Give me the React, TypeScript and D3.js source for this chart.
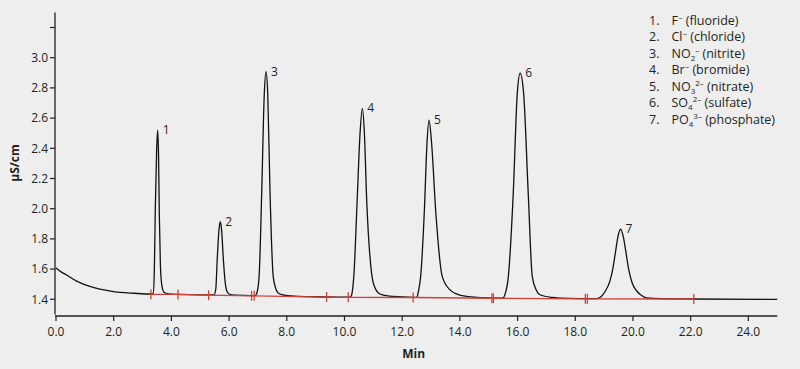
import React, { useEffect } from "react";
import * as d3 from "d3";

// chromatogram trace (minutes, µS/cm)
const traceTime = [
  0, 0.15, 0.37, 0.6, 0.83, 1.15, 1.52, 1.85, 2.22, 2.7, 3.26,
  3.37, 3.41, 3.44, 3.49, 3.525, 3.555, 3.58, 3.62, 3.67, 3.74, 3.9, 4.2, 5.0,
  5.48, 5.54, 5.59, 5.65, 5.695, 5.74, 5.8, 5.86, 5.92, 6.0, 6.2, 6.8,
  6.9, 6.96, 7.04, 7.13, 7.22, 7.28, 7.34, 7.42, 7.53, 7.62, 7.71, 7.9, 8.3, 9.0, 10.1,
  10.2, 10.25, 10.33, 10.44, 10.54, 10.62, 10.69, 10.77, 10.94, 11.05, 11.23, 11.5, 12.0, 12.45,
  12.51, 12.56, 12.64, 12.77, 12.86, 12.93, 13.02, 13.16, 13.39, 13.66, 13.9, 14.12, 14.6, 15.1, 15.45,
  15.5, 15.56, 15.68, 15.85, 15.99, 16.09, 16.21, 16.37, 16.51, 16.65, 16.78, 17.18, 17.8, 18.6,
  18.74, 18.9, 19.03, 19.2, 19.3, 19.4, 19.47, 19.57, 19.67, 19.75, 19.85, 19.97, 20.13, 20.3, 20.47, 21.0, 22.0, 25.0,
];
const traceSignal = [
  1.607, 1.585, 1.561, 1.533, 1.51, 1.487, 1.468, 1.456, 1.446, 1.44, 1.435,
  1.44, 1.6, 1.975, 2.4, 2.521, 2.35, 1.975, 1.62, 1.49, 1.447, 1.436, 1.432, 1.429,
  1.429, 1.47, 1.67, 1.86, 1.914, 1.86, 1.67, 1.52, 1.455, 1.435, 1.427, 1.424,
  1.424, 1.44, 1.55, 2.1, 2.76, 2.907, 2.76, 2.1, 1.55, 1.47, 1.44, 1.428, 1.421, 1.417, 1.414,
  1.414, 1.43, 1.572, 2.058, 2.5, 2.665, 2.5, 2.058, 1.572, 1.48, 1.435, 1.422, 1.416, 1.413,
  1.414, 1.45, 1.55, 1.991, 2.433, 2.587, 2.433, 1.991, 1.55, 1.462, 1.434, 1.422, 1.413, 1.409, 1.408,
  1.409, 1.43, 1.55, 2.1, 2.764, 2.897, 2.764, 2.1, 1.55, 1.46, 1.43, 1.413, 1.406, 1.404,
  1.404, 1.418, 1.45, 1.52, 1.6, 1.72, 1.805, 1.864, 1.81, 1.72, 1.6, 1.51, 1.455, 1.425, 1.41, 1.404, 1.402, 1.4,
];

// integration baseline markers
const markTime = [3.29, 4.23, 5.29, 6.78, 6.87, 9.38, 10.13, 12.38, 15.11, 15.16, 18.35, 18.42, 22.11];
const markSignal = [1.432, 1.432, 1.427, 1.423, 1.423, 1.415, 1.413, 1.412, 1.407, 1.407, 1.403, 1.403, 1.402];

// peak labels
const peakIds = ["1", "2", "3", "4", "5", "6", "7"];
const peakTime = [3.525, 5.695, 7.28, 10.62, 12.93, 16.09, 19.57];
const peakHeight = [2.521, 1.914, 2.907, 2.665, 2.587, 2.897, 1.864];

// legend
const legendIon = ["F", "Cl", "NO", "Br", "NO", "SO", "PO"];
const legendSub = ["", "", "2", "", "3", "4", "4"];
const legendSup = ["–", "–", "–", "–", "2–", "2–", "3–"];
const legendName = ["(fluoride)", "(chloride)", "(nitrite)", "(bromide)", "(nitrate)", "(sulfate)", "(phosphate)"];

const xTicks = [0, 2, 4, 6, 8, 10, 12, 14, 16, 18, 20, 22, 24];
const yTicks = [1.4, 1.6, 1.8, 2.0, 2.2, 2.4, 2.6, 2.8, 3.0, 3.2];
const yLabelled = [1.4, 1.6, 1.8, 2.0, 2.2, 2.4, 2.6, 2.8, 3.0];

const W = 800;
const H = 369;
const FONT = "'Open Sans', 'DejaVu Sans', sans-serif";
const AXIS = "#231f20";
const RED = "#d2403a";

export default function App() {
  useEffect(() => {
    document.body.style.margin = "0";
    document.body.style.background = "#eeeeee";
  }, []);

  const x = d3.scaleLinear().domain([0, 25]).range([56, 777.2]);
  const y = d3.scaleLinear().domain([1.3, 3.3]).range([314.4, 12.4]);
  const xAxisY = 316;
  const yAxisX = 55;

  const line = d3
    .line<number>()
    .x((_, i) => x(traceTime[i]))
    .y((d) => y(d))
    .curve(d3.curveMonotoneX);

  const redLine = d3
    .line<number>()
    .x((_, i) => x(markTime[i]))
    .y((d) => y(d));

  return (
    <svg width={W} height={H} style={{ display: "block", background: "#eeeeee" }} fontFamily={FONT}>
      {/* y axis */}
      <line x1={yAxisX} x2={yAxisX} y1={y(3.3)} y2={y(1.3)} stroke={AXIS} strokeWidth={1.3} />
      {yTicks.map((t) => (
        <g key={t}>
          <line x1={yAxisX - 5} x2={yAxisX} y1={y(t)} y2={y(t)} stroke={AXIS} strokeWidth={1.2} />
          {yLabelled.includes(t) && (
            <text x={yAxisX - 7} y={y(t) + 4.2} textAnchor="end" fontSize={12} fill={AXIS}>
              {d3.format(".1f")(t)}
            </text>
          )}
        </g>
      ))}
      <text
        transform={`translate(19,163) rotate(-90)`}
        textAnchor="middle"
        fontSize={12}
        fontWeight="bold"
        fill={AXIS}
      >
        µS/cm
      </text>

      {/* x axis */}
      <line x1={yAxisX} x2={x(25)} y1={xAxisY} y2={xAxisY} stroke={AXIS} strokeWidth={1.3} />
      {xTicks.map((t) => (
        <g key={t}>
          <line x1={x(t)} x2={x(t)} y1={xAxisY} y2={xAxisY + 5} stroke={AXIS} strokeWidth={1.2} />
          <text x={x(t)} y={336} textAnchor="middle" fontSize={12} fill={AXIS}>
            {d3.format(".1f")(t)}
          </text>
        </g>
      ))}
      <text x={(x(0) + x(25)) / 2 - 3} y={358} textAnchor="middle" fontSize={12} fontWeight="bold" fill={AXIS}>
        Min
      </text>

      {/* trace */}
      <path d={line(traceSignal) ?? ""} fill="none" stroke="#111" strokeWidth={1.3} />

      {/* integration baseline */}
      <path d={redLine(markSignal) ?? ""} fill="none" stroke={RED} strokeWidth={1.3} />
      {markTime.map((t, i) => (
        <line
          key={i}
          x1={x(t)}
          x2={x(t)}
          y1={y(markSignal[i]) - 5}
          y2={y(markSignal[i]) + 5}
          stroke={RED}
          strokeWidth={1.3}
        />
      ))}

      {/* peak numbers */}
      {peakIds.map((id, i) => (
        <text key={id} x={x(peakTime[i]) + 5} y={y(peakHeight[i]) + 4} fontSize={12} fill={AXIS}>
          {id}
        </text>
      ))}

      {/* legend */}
      {legendIon.map((ion, i) => {
        const by = 24.5 + i * 16.5;
        const sub = legendSub[i];
        const sup = legendSup[i];
        const back = sup ? 5 : sub ? -3 : 0;
        return (
          <g key={i} fontSize={12.5} fill={AXIS}>
            <text x={649} y={by}>{`${i + 1}.`}</text>
            <text x={671.5} y={by}>
              <tspan>{ion}</tspan>
              {sub && (
                <tspan dy={3} fontSize={8}>
                  {sub}
                </tspan>
              )}
              {sup && (
                <tspan dy={sub ? -8 : -5} dx={sub ? 0 : 0.5} fontSize={8}>
                  {sup}
                </tspan>
              )}
              <tspan dy={back}>{" " + legendName[i]}</tspan>
            </text>
          </g>
        );
      })}
    </svg>
  );
}
